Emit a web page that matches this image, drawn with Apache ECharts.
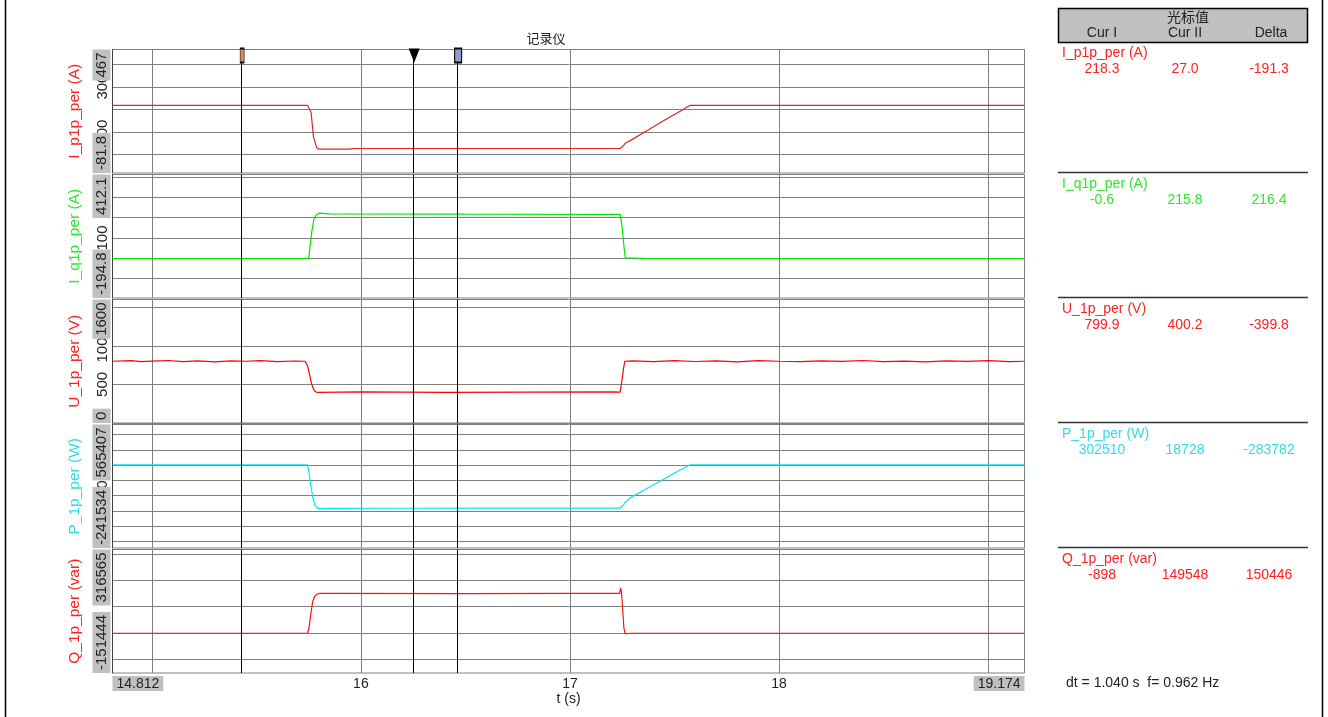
<!DOCTYPE html>
<html><head><meta charset="utf-8">
<script src="https://cdn.jsdelivr.net/npm/echarts@6/dist/echarts.min.js"></script>
<style>html,body{margin:0;padding:0;background:#fff}#c{width:1328px;height:717px}</style>
</head><body><div id="c"></div><script>
// ---------- data ----------
const seriesNames = ['I_p1p_per (A)', 'I_q1p_per (A)', 'U_1p_per (V)', 'P_1p_per (W)', 'Q_1p_per (var)'];
const yMin = [-81.8, -194.8, 0, -241534, -151444];
const yMax = [467, 412.1, 1600, 565407, 316565];
const gridStep = [100, 100, 500, 100000, 100000];
const yMidLabels = [[100, 300], [100, 300], [500, 1000], [200000], []];
const xMin = 14.812, xMax = 19.174;
const xTickLabels = [16, 17, 18];
const xGridValues = [15, 16, 17, 18, 19];
const cursorI = 15.432, cursorII = 16.465, triggerMark = 16.255;
const curIVals = ['218.3', '-0.6', '799.9', '302510', '-898'];
const curIIVals = ['27.0', '215.8', '400.2', '18728', '149548'];
const deltaVals = ['-191.3', '216.4', '-399.8', '-283782', '150446'];
const dtText = 'dt = 1.040 s  f= 0.962 Hz';

const ipT = [14.812, 15.745, 15.752, 15.762, 15.773, 15.789, 15.80, 15.95, 15.96, 16.7, 17.24, 17.244, 17.248, 17.256, 17.264, 17.288, 17.368, 17.447, 17.527, 17.575, 17.59, 19.174];
const ipV = [218.3, 218.3, 212, 187, 80, 30, 24, 24, 27, 27, 27, 20, 25, 40, 50, 62, 106, 150, 193, 219, 218.3, 218.3];

const iqT = [14.812, 15.75, 15.755, 15.765, 15.775, 15.785, 15.80, 15.85, 16.5, 17.24, 17.243, 17.25, 17.258, 17.265, 17.385, 19.174];
const iqV = [-0.6, -0.6, 40, 130, 190, 212, 222, 219, 217, 215.8, 210, 150, 60, 2, -0.6, -0.6];

const uT = [14.812, 14.90, 14.95, 15.00, 15.08, 15.15, 15.22, 15.30, 15.38, 15.45, 15.52, 15.60, 15.68, 15.733, 15.745, 15.755, 15.765, 15.775, 15.786, 15.80, 16.00, 16.40, 16.80, 17.20, 17.24, 17.248, 17.256, 17.262, 17.30, 17.40, 17.50, 17.60, 17.70, 17.80, 17.90, 18.00, 18.10, 18.20, 18.30, 18.40, 18.50, 18.60, 18.70, 18.80, 18.90, 19.00, 19.10, 19.174];
const uV = [800, 808, 794, 802, 810, 796, 804, 792, 806, 799.9, 809, 795, 803, 800, 740, 620, 500, 430, 400, 396, 402, 398, 400.2, 402, 400, 540, 700, 800, 806, 794, 809, 797, 804, 793, 807, 800, 795, 806, 798, 810, 796, 802, 792, 806, 798, 808, 795, 800];

const pT = [14.812, 15.745, 15.752, 15.76, 15.77, 15.78, 15.79, 15.80, 15.85, 16.2, 16.6, 17.0, 17.24, 17.248, 17.256, 17.264, 17.288, 17.368, 17.447, 17.527, 17.575, 19.174];
const pV = [302510, 302510, 250000, 170000, 90000, 40000, 22000, 16000, 17500, 18300, 18728, 18900, 19000, 24000, 40000, 56000, 86000, 147000, 208000, 267500, 302510, 302510];

const qT = [14.812, 15.745, 15.752, 15.76, 15.77, 15.78, 15.79, 15.80, 15.85, 16.5, 17.0, 17.238, 17.242, 17.246, 17.252, 17.258, 17.264, 17.30, 17.42, 19.174];
const qV = [-898, -898, 20000, 70000, 120000, 140000, 147000, 150000, 150500, 149548, 150000, 150500, 170000, 160000, 90000, 20000, -2000, -898, -898, -898];

const seriesT = [ipT, iqT, uT, pT, qT];
const seriesV = [ipV, iqV, uV, pV, qV];

// ---------- styles ----------
const lineColors = ['#e02424', '#00e600', '#ff0000', '#00e8f0', '#ff1010'];
const textColors = ['#ff2020', '#2ee62e', '#ff2020', '#30dce8', '#ff2020'];
const FONT = 'Liberation Sans, Arial, sans-serif';
const tops = [49.5, 174.5, 299.5, 424.5, 549.5];
const panelH = 123.5;
const L = 112.5, R = 303.5;

const grids = [], xAxes = [], yAxes = [], series = [];
function multiples(min, max, step) {
  const out = [];
  for (let v = Math.ceil(min / step) * step; v <= max + 1e-9; v += step) out.push(v);
  return out;
}
for (let i = 0; i < 5; i++) {
  grids.push({left: L, right: R, top: tops[i], height: panelH, show: true,
    borderColor: '#808080', borderWidth: 1, containLabel: false, outerBoundsMode: 'none'});
  const bottom = i === 4;
  xAxes.push({gridIndex: i, type: 'value', min: xMin, max: xMax, position: 'bottom',
    axisLine: {show: false}, axisTick: {show: false, customValues: xGridValues},
    splitLine: {show: true, lineStyle: {color: '#808080', width: 1}},
    axisLabel: {show: bottom, customValues: xTickLabels, fontSize: 14, color: '#222', margin: 4, fontFamily: FONT},
    name: bottom ? 't (s)' : '', nameLocation: 'middle', nameGap: 18,
    nameTextStyle: {fontSize: 14, color: '#222', fontFamily: FONT}});
  const labBase = {rotate: 90, fontSize: 15, fontFamily: FONT, color: '#222', margin: 2, lineHeight: 16};
  yAxes.push({gridIndex: i, type: 'value', min: yMin[i], max: yMax[i], position: 'left',
    axisLine: {show: true, lineStyle: {color: '#404040', width: 1}},
    axisTick: {show: false, customValues: multiples(yMin[i], yMax[i], gridStep[i])},
    splitLine: {show: true, lineStyle: {color: '#808080', width: 1}},
    axisLabel: Object.assign({customValues: yMidLabels[i], formatter: v => String(v)}, labBase),
    name: seriesNames[i], nameLocation: 'middle', nameGap: 30,
    nameTextStyle: {color: textColors[i], fontSize: 15.5, fontFamily: FONT}, z: 2});
  yAxes.push({gridIndex: i, type: 'value', min: yMin[i], max: yMax[i], position: 'left',
    axisLine: {show: false}, axisTick: {show: false}, splitLine: {show: false},
    axisLabel: Object.assign({customValues: [yMax[i]], formatter: v => String(v), align: 'right',
      backgroundColor: '#c0c0c0', padding: [1, 3, 1, 3]}, labBase), z: 5});
  yAxes.push({gridIndex: i, type: 'value', min: yMin[i], max: yMax[i], position: 'left',
    axisLine: {show: false}, axisTick: {show: false}, splitLine: {show: false},
    axisLabel: Object.assign({customValues: [yMin[i]], formatter: v => String(v), align: 'left',
      backgroundColor: '#c0c0c0', padding: [1, 3, 1, 3]}, labBase), z: 5});
  const s = {type: 'line', xAxisIndex: i, yAxisIndex: i * 3, showSymbol: false, symbol: 'none',
    data: seriesT[i].map((t, k) => [t, seriesV[i][k]]),
    lineStyle: {color: lineColors[i], width: 1.2}, itemStyle: {color: lineColors[i]},
    animation: false, silent: true, z: 3,
    markLine: {silent: true, symbol: ['none', 'none'], label: {show: false}, animation: false,
      lineStyle: {color: '#000', width: 1, type: 'solid'}, emphasis: {disabled: true},
      data: [{xAxis: cursorI}, {xAxis: triggerMark}, {xAxis: cursorII}]}};
  if (i === 0) {
    s.markPoint = {silent: true, animation: false, label: {show: false}, data: [
      {coord: [cursorI, yMax[0]], symbol: 'rect', symbolSize: [4, 14], symbolOffset: [0, 6],
        itemStyle: {color: '#d89050', borderColor: '#000', borderWidth: 1}},
      {coord: [triggerMark, yMax[0]], symbol: 'triangle', symbolRotate: 180, symbolSize: [11, 14], symbolOffset: [0, 6],
        itemStyle: {color: '#000'}},
      {coord: [cursorII, yMax[0]], symbol: 'rect', symbolSize: [7, 14], symbolOffset: [0, 6],
        itemStyle: {color: '#8aa0c8', borderColor: '#000', borderWidth: 1.5}}
    ]};
  }
  series.push(s);
}
// extra bottom x axes for the range labels
const rangeLab = {fontSize: 14, color: '#222', margin: 3, fontFamily: FONT, backgroundColor: '#c0c0c0', padding: [1, 4, 0, 4]};
xAxes.push({gridIndex: 4, type: 'value', min: xMin, max: xMax, position: 'bottom', axisLine: {show: false},
  axisTick: {show: false}, splitLine: {show: false},
  axisLabel: Object.assign({customValues: [xMin], formatter: v => v.toFixed(3), align: 'left'}, rangeLab)});
xAxes.push({gridIndex: 4, type: 'value', min: xMin, max: xMax, position: 'bottom', axisLine: {show: false},
  axisTick: {show: false}, splitLine: {show: false},
  axisLabel: Object.assign({customValues: [xMax], formatter: v => v.toFixed(3), align: 'right'}, rangeLab)});

// ---------- right side table & decorations ----------
const graphic = [];
graphic.push({type: 'line', shape: {x1: 5.5, y1: 0, x2: 5.5, y2: 717}, style: {stroke: '#000', lineWidth: 1.5}});
graphic.push({type: 'line', shape: {x1: 1322.5, y1: 0, x2: 1322.5, y2: 717}, style: {stroke: '#000', lineWidth: 1.5}});
graphic.push({type: 'text', x: 546, y: 38, style: {text: '记录仪', fontSize: 13, fontFamily: 'Noto Sans CJK SC', fill: '#222', align: 'center', verticalAlign: 'middle'}});
graphic.push({type: 'rect', shape: {x: 1058.5, y: 8.5, width: 249, height: 34}, style: {fill: '#c0c0c0', stroke: '#000', lineWidth: 1.5}});
graphic.push({type: 'text', x: 1188, y: 17, style: {text: '光标值', fontSize: 14, fontFamily: 'Noto Sans CJK SC', fill: '#222', align: 'center', verticalAlign: 'middle'}});
[['Cur I', 1102], ['Cur II', 1185], ['Delta', 1271]].forEach(([t, x]) =>
  graphic.push({type: 'text', x: x, y: 33, style: {text: t, fontSize: 14, fontFamily: FONT, fill: '#222', align: 'center', verticalAlign: 'middle'}}));
const secTop = [42, 172.5, 297.5, 422.5, 547.5];
for (let i = 0; i < 5; i++) {
  if (i > 0) graphic.push({type: 'line', shape: {x1: 1058, y1: secTop[i], x2: 1308, y2: secTop[i]}, style: {stroke: '#333', lineWidth: 1.5}});
  const yN = secTop[i] + 11.5, yV = secTop[i] + 27.5;
  graphic.push({type: 'text', x: 1062, y: yN, style: {text: seriesNames[i], fontSize: 14, fontFamily: FONT, fill: textColors[i], align: 'left', verticalAlign: 'middle'}});
  [[curIVals[i], 1102], [curIIVals[i], 1185], [deltaVals[i], 1269]].forEach(([t, x]) =>
    graphic.push({type: 'text', x: x, y: yV, style: {text: t, fontSize: 14, fontFamily: FONT, fill: textColors[i], align: 'center', verticalAlign: 'middle'}}));
}
graphic.push({type: 'text', x: 1066, y: 683, style: {text: dtText, fontSize: 14, fontFamily: FONT, fill: '#222', align: 'left', verticalAlign: 'middle'}});

const chart = echarts.init(document.getElementById('c'), null, {renderer: 'canvas'});
chart.setOption({animation: false, backgroundColor: '#fff', grid: grids, xAxis: xAxes, yAxis: yAxes, series: series, graphic: graphic});
</script></body></html>
